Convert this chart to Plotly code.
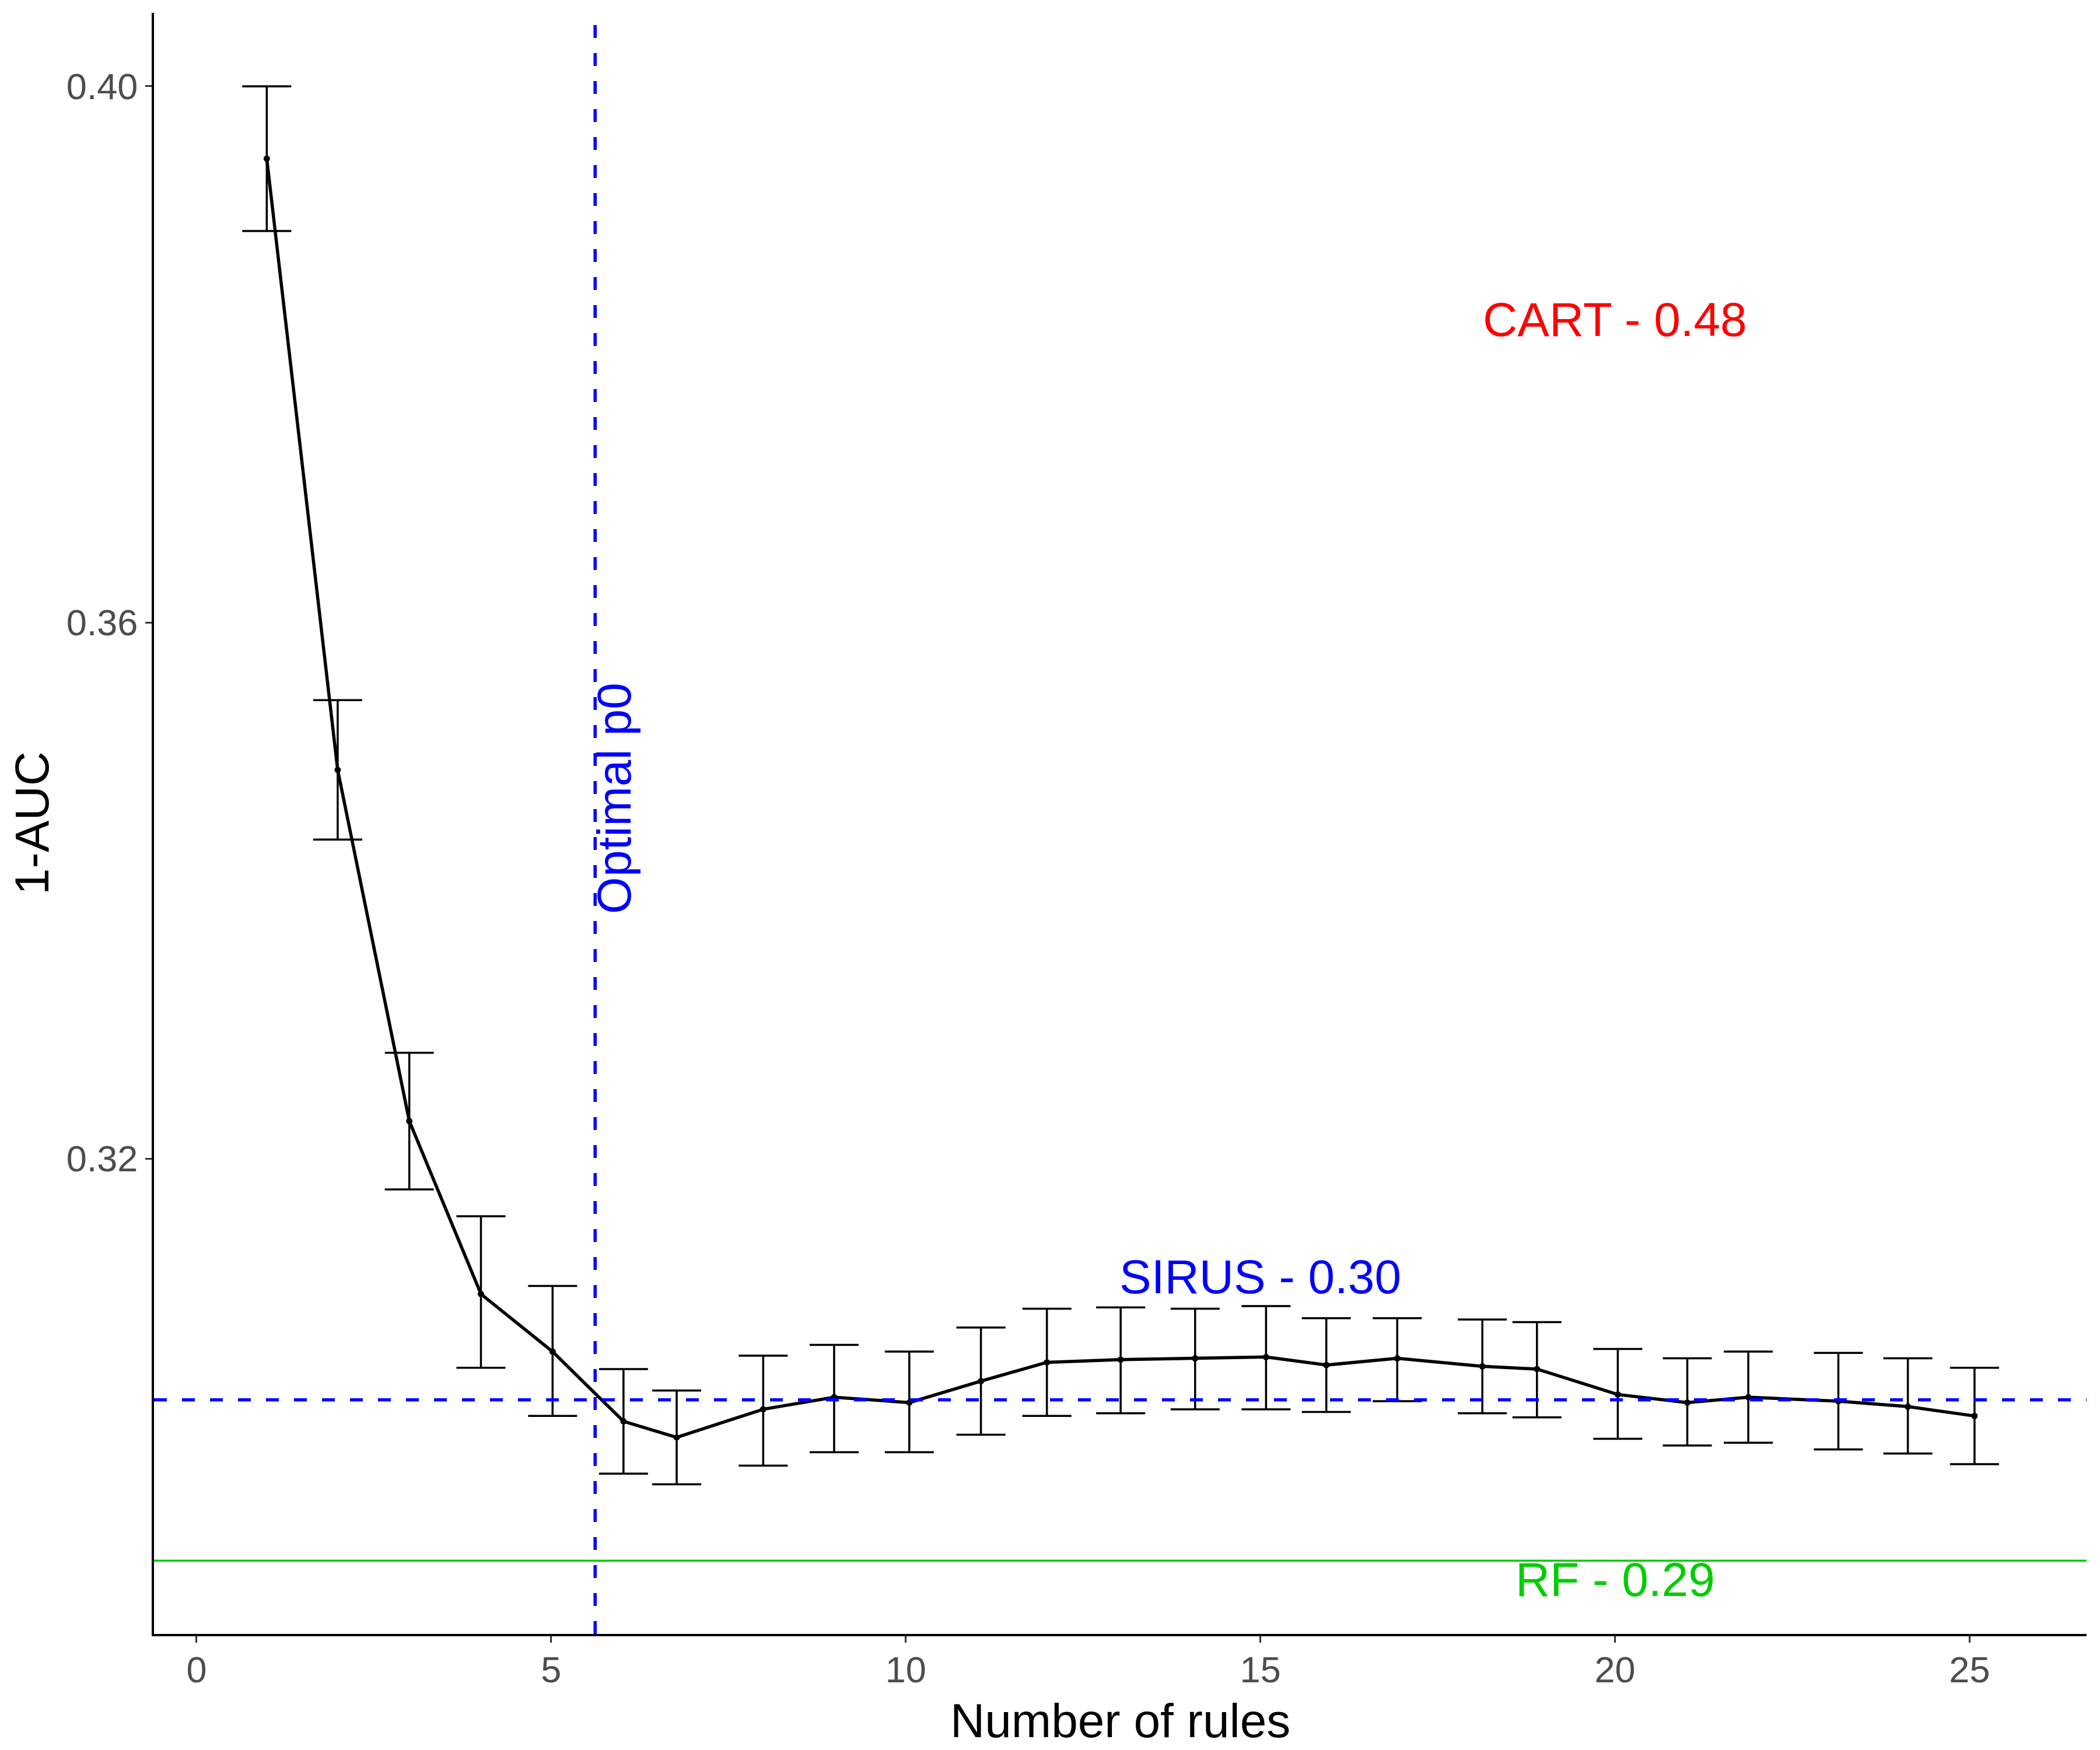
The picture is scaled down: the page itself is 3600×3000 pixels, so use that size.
import plotly.graph_objects as go

# ---- data ----
n_rules = [0.99, 1.99, 3.00, 4.01, 5.02, 6.02, 6.77, 7.99, 8.99, 10.05, 11.06, 11.99,
           13.03, 14.08, 15.08, 15.93, 16.93, 18.13, 18.90, 20.04, 21.02, 21.88,
           23.15, 24.13, 25.07]
auc_err = [0.3946, 0.3490, 0.3228, 0.3099, 0.3056, 0.3004, 0.2992, 0.3013, 0.3022,
           0.3018, 0.3034, 0.3048, 0.3050, 0.3051, 0.3052, 0.3046, 0.3051, 0.3045,
           0.3043, 0.3024, 0.3018, 0.3022, 0.3019, 0.3015, 0.3008]
err_upper = [0.4000, 0.3542, 0.3279, 0.3157, 0.3105, 0.3043, 0.3027, 0.3053, 0.3061,
             0.3056, 0.3074, 0.3088, 0.3089, 0.3088, 0.3090, 0.3081, 0.3081, 0.3080,
             0.3078, 0.3058, 0.3051, 0.3056, 0.3055, 0.3051, 0.3044]
err_lower = [0.3892, 0.3438, 0.3177, 0.3044, 0.3008, 0.2965, 0.2957, 0.2971, 0.2981,
             0.2981, 0.2994, 0.3008, 0.3010, 0.3013, 0.3013, 0.3011, 0.3019, 0.3010,
             0.3007, 0.2991, 0.2986, 0.2988, 0.2983, 0.2980, 0.2972]

sirus_value = 0.3020
rf_value = 0.2900
optimal_p0 = 5.62

labels = ["CART - 0.48", "SIRUS - 0.30", "RF - 0.29"]
label_x = [20, 15, 20]
label_y = [0.3826, 0.3112, 0.2886]
label_colors = ["#FF0000", "#0000FF", "#00CD00"]

x_ticks = [0, 5, 10, 15, 20, 25]
y_ticks = [0.32, 0.36, 0.40]
y_tick_text = ["0.32", "0.36", "0.40"]

x_title = "Number of rules"
y_title = "1-AUC"

FONT = "Liberation Sans, Arial, sans-serif"

fig = go.Figure()

# reference lines
fig.add_hline(y=rf_value, line=dict(color="#00CD00", width=3.4))
fig.add_hline(y=sirus_value, line=dict(color="#0000FF", width=5.5, dash="22px,26px"))
fig.add_vline(x=optimal_p0, line=dict(color="#0000FF", width=5.5, dash="22px,26px"))

plus = [u - m for u, m in zip(err_upper, auc_err)]
minus = [m - l for m, l in zip(auc_err, err_lower)]

fig.add_trace(go.Scatter(
    x=n_rules, y=auc_err, mode="lines+markers",
    line=dict(color="black", width=5.5),
    marker=dict(color="black", size=11),
    error_y=dict(type="data", symmetric=False, array=plus, arrayminus=minus,
                 color="black", thickness=3.5, width=42),
    showlegend=False, hoverinfo="x+y",
))

for t, x, y, c in zip(labels, label_x, label_y, label_colors):
    fig.add_annotation(x=x, y=y, text=t, showarrow=False, xanchor="center", yanchor="middle",
                       font=dict(family=FONT, size=82, color=c))

fig.add_annotation(x=5.88, y=0.3469, text="Optimal p0", textangle=-90, showarrow=False,
                   xanchor="center", yanchor="middle",
                   font=dict(family=FONT, size=82, color="#0000FF"))

# axis titles
fig.add_annotation(xref="paper", yref="paper", x=0.5, y=-0.0535, text=x_title,
                   showarrow=False, xanchor="center", yanchor="middle", borderpad=0,
                   font=dict(family=FONT, size=82, color="black"))
fig.add_annotation(xref="paper", yref="paper", x=-0.0632, y=0.5, text=y_title,
                   textangle=-90, showarrow=False, xanchor="center", yanchor="middle",
                   font=dict(family=FONT, size=82, color="black"))

axis_common = dict(showgrid=False, zeroline=False, showline=True, linecolor="black",
                   linewidth=4, ticks="outside", ticklen=11, tickwidth=3, tickcolor="#333333",
                   tickfont=dict(family=FONT, size=63, color="#4D4D4D"), automargin=False)

fig.update_layout(
    width=3600, height=3000,
    margin=dict(l=264, r=23, t=22, b=199, autoexpand=False),
    paper_bgcolor="white", plot_bgcolor="white",
    font=dict(family=FONT),
    xaxis=dict(range=[-0.60, 26.65], tickvals=x_ticks, ticktext=[str(v) for v in x_ticks],
               ticklabelstandoff=-8, **axis_common),
    yaxis=dict(range=[0.28454, 0.40548], tickvals=y_ticks, ticktext=y_tick_text,
               **axis_common),
)

fig.write_html("out.html")
